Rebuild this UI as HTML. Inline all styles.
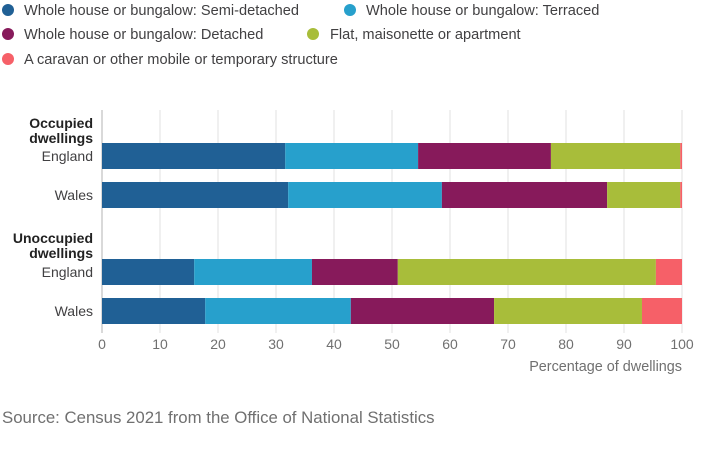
<!DOCTYPE html>
<html><head><meta charset="utf-8"><style>
body{margin:0;background:#fff;font-family:"Liberation Sans",sans-serif;}
svg text{font-family:"Liberation Sans",sans-serif;}
</style></head><body>
<svg width="702" height="447" id="c">
<g>
<g><circle cx="8" cy="10" r="6" fill="#206095"/><text x="24" y="15" font-size="14.6" fill="#414042">Whole house or bungalow: Semi-detached</text></g>
<g><circle cx="350" cy="10" r="6" fill="#27a0cc"/><text x="366" y="15" font-size="14.6" fill="#414042">Whole house or bungalow: Terraced</text></g>
<g><circle cx="8" cy="34" r="6" fill="#871a5b"/><text x="24" y="39" font-size="14.6" fill="#414042">Whole house or bungalow: Detached</text></g>
<g><circle cx="313" cy="34" r="6" fill="#a8bd3a"/><text x="330" y="39" font-size="14.6" fill="#414042">Flat, maisonette or apartment</text></g>
<g><circle cx="8" cy="59" r="6" fill="#f66068"/><text x="24" y="64" font-size="14.6" fill="#414042">A caravan or other mobile or temporary structure</text></g>
</g>
<g id="grid"></g>
<g id="bars"></g>
<g id="ylab">
<text x="93" y="128" font-size="14" font-weight="bold" text-anchor="end" fill="#222"><tspan x="93">Occupied</tspan><tspan x="93" dy="15">dwellings</tspan></text>
<text x="93" y="243" font-size="14" font-weight="bold" text-anchor="end" fill="#222"><tspan x="93">Unoccupied</tspan><tspan x="93" dy="15">dwellings</tspan></text>
</g>
<g id="xt"></g>
<text x="682" y="371" font-size="14.4" text-anchor="end" fill="#707070">Percentage of dwellings</text>
<text x="2" y="423" font-size="16.8" fill="#707070">Source: Census 2021 from the Office of National Statistics</text>
</svg>
<script>
const categories=["England","Wales","England","Wales"];
const semi=[31.6,32.1,15.9,17.8];
const terraced=[22.9,26.5,20.3,25.1];
const detached=[22.9,28.5,14.8,24.7];
const flat=[22.3,12.6,44.5,25.5];
const caravan=[0.3,0.3,4.5,6.9];
const ticks=[0,10,20,30,40,50,60,70,80,90,100];
const colors=["#206095","#27a0cc","#871a5b","#a8bd3a","#f66068"];
const names=["semi","terraced","detached","flat","caravan"];
const series=[semi,terraced,detached,flat,caravan];
const barY=[143,182,259,298], barH=26;
const x=v=>102+v*5.8;
const NS="http://www.w3.org/2000/svg";
const g=document.getElementById('grid'),b=document.getElementById('bars'),xt=document.getElementById('xt'),yl=document.getElementById('ylab');
ticks.forEach(t=>{
 const l=document.createElementNS(NS,'line');
 l.setAttribute('x1',x(t));l.setAttribute('x2',x(t));l.setAttribute('y1',110);l.setAttribute('y2',333);
 l.setAttribute('stroke',t===0?'#b3b3b3':'#e0e0e0');
 
 
 g.appendChild(l);
 const tx=document.createElementNS(NS,'text');
 tx.setAttribute('x',x(t));tx.setAttribute('y',349);tx.setAttribute('font-size','14');tx.setAttribute('text-anchor','middle');tx.setAttribute('fill','#707070');
 tx.textContent=t;
 
 
 xt.appendChild(tx);
});
categories.forEach((c,i)=>{
 let acc=0;
 series.forEach((s,k)=>{
  const r=document.createElementNS(NS,'rect');
  r.setAttribute('x',x(acc));r.setAttribute('width',s[i]*5.8);r.setAttribute('y',barY[i]);r.setAttribute('height',barH);r.setAttribute('fill',colors[k]);
  
  
  b.appendChild(r);acc+=s[i];
 });
 const t=document.createElementNS(NS,'text');
 t.setAttribute('x',93);t.setAttribute('y',barY[i]+18);t.setAttribute('font-size','14');t.setAttribute('text-anchor','end');t.setAttribute('fill','#414042');
 t.textContent=c;
 
 
 yl.appendChild(t);
});
</script>
</body></html>
